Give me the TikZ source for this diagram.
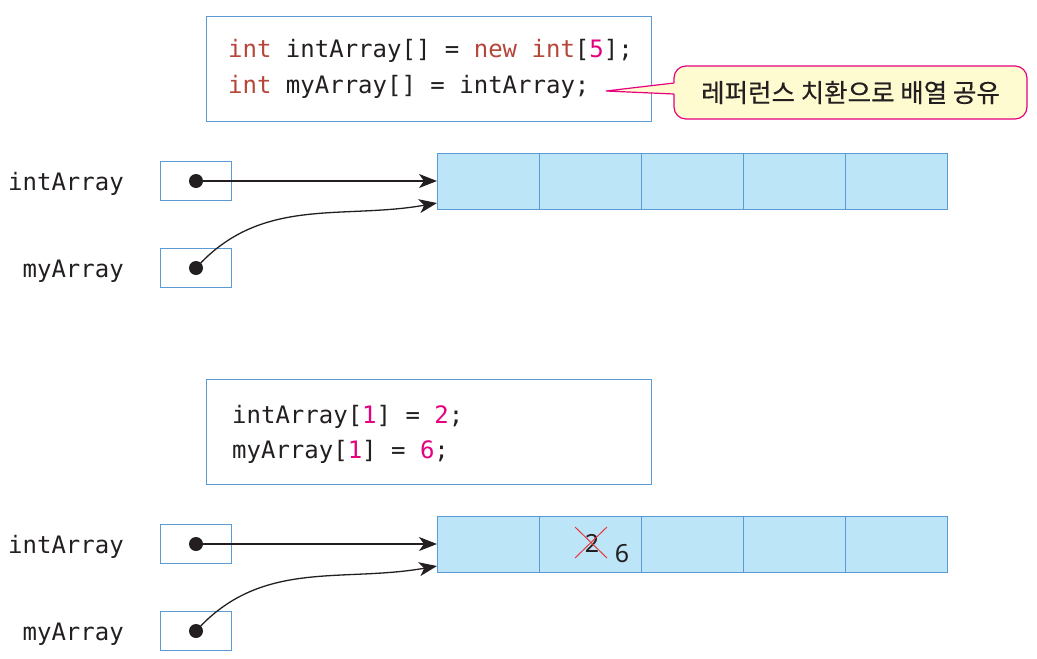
\documentclass[tikz,border=0pt]{standalone}
\usepackage{fontspec}
\setmonofont{DejaVu Sans Mono}
\newfontfamily\kr{Noto Sans CJK KR}
\newfontfamily\numfont{Noto Sans}
\usetikzlibrary{arrows.meta}
\definecolor{boxblue}{HTML}{5B9BD5}
\definecolor{cellfill}{HTML}{BDE5F8}
\definecolor{kw}{HTML}{B5473A}
\definecolor{num}{HTML}{E4007F}
\definecolor{txt}{HTML}{231F20}
\definecolor{callfill}{HTML}{FFFBD0}
\definecolor{callpink}{HTML}{E6007E}
\definecolor{xred}{HTML}{E8383D}
\newcommand{\kwd}[1]{\textcolor{kw}{#1}}
\newcommand{\nm}[1]{\textcolor{num}{#1}}
\begin{document}
\begin{tikzpicture}[x=1pt,y=-1pt,
  codebox/.style={draw=boxblue,line width=1pt,fill=white},
  codeline/.style={anchor=base west,inner sep=0pt,font=\ttfamily\fontsize{24}{28}\selectfont,text=txt},
  varlabel/.style={anchor=base east,inner sep=0pt,font=\ttfamily\fontsize{24}{28}\selectfont,text=txt},
  refbox/.style={draw=boxblue,line width=1pt,minimum width=71pt,minimum height=39pt,inner sep=0pt},
  cell/.style={draw=boxblue,line width=0.8pt,fill=cellfill,minimum width=102pt,minimum height=56pt,inner sep=0pt},
  dot/.style={circle,fill=txt,minimum size=14pt,inner sep=0pt},
  ptr/.style={line width=1.3pt,txt,-{Stealth[length=18pt,width=14pt,inset=5pt]}},
  digit/.style={font=\numfont\fontsize{25}{28}\selectfont,text=txt,inner sep=0pt},
  callout/.style={draw=callpink,line width=1.2pt,fill=callfill,rounded corners=12pt,minimum width=353pt,minimum height=53pt,inner sep=0pt,font=\kr\fontsize{25.5}{28}\selectfont,text=txt}
]
\useasboundingbox (0,0) rectangle (1037,659);

% ---------- top part ----------
\node[codebox,minimum width=445pt,minimum height=105pt,inner sep=0pt] (code1) at (428.5,68.5) {};
\node[codeline] (l1) at (228,57) {\kwd{int} intArray[] = \kwd{new} \kwd{int}[\nm{5}];};
\node[codeline] (l2) at (228,93) {\kwd{int} myArray[] = intArray;};

\node[callout] (call) at (850.5,92.5) {\addfontfeatures{FakeBold=0.4}레퍼런스 치환으로 배열 공유};
\coordinate (tip) at (606,91);
\fill[callfill] (674.9,83) -- (tip) -- (674.9,94) -- cycle;
\draw[callpink,line width=1.2pt,line join=miter] (674,83) -- (tip) -- (674,94);

\node[varlabel] (lab1) at (124,190) {intArray};
\node[varlabel] (lab2) at (124,277) {myArray};
\node[refbox] (r1) at (195.5,180.5) {};
\node[refbox] (r2) at (195.5,268) {};
\node[dot] (d1) at (196,181) {};
\node[dot] (d2) at (196,268) {};

\foreach \i in {0,...,4}{
  \node[cell] (a\i) at ({488+102*\i},181) {};
}
\coordinate (t1) at (437,181);
\coordinate (t2) at (437,203);
\draw[ptr] (d1.center) -- (t1);
\draw[ptr] (d2.center) to[out=48,in=190] (t2);

% ---------- bottom part ----------
\node[codebox,minimum width=445pt,minimum height=105pt,inner sep=0pt] (code2) at (428.5,431.5) {};
\node[codeline] (m1) at (232,423) {intArray[\nm{1}] = \nm{2};};
\node[codeline] (m2) at (232,458) {myArray[\nm{1}] = \nm{6};};

\node[varlabel] (lab3) at (124,553) {intArray};
\node[varlabel] (lab4) at (124,640) {myArray};
\node[refbox] (r3) at (195.5,543.5) {};
\node[refbox] (r4) at (195.5,631) {};
\node[dot] (d3) at (196,544) {};
\node[dot] (d4) at (196,631) {};

\foreach \i in {0,...,4}{
  \node[cell] (b\i) at ({488+102*\i},544) {};
}
\coordinate (t3) at (437,544);
\coordinate (t4) at (437,566);
\draw[ptr] (d3.center) -- (t3);
\draw[ptr] (d4.center) to[out=48,in=190] (t4);

\node[digit] (old) at (592,543) {2};
\node[digit] (new) at (622,554) {6};
\draw[xred,line width=1pt] (575,527) -- (607,558);
\draw[xred,line width=1pt] (575,558) -- (607,527);
\end{tikzpicture}
\end{document}
